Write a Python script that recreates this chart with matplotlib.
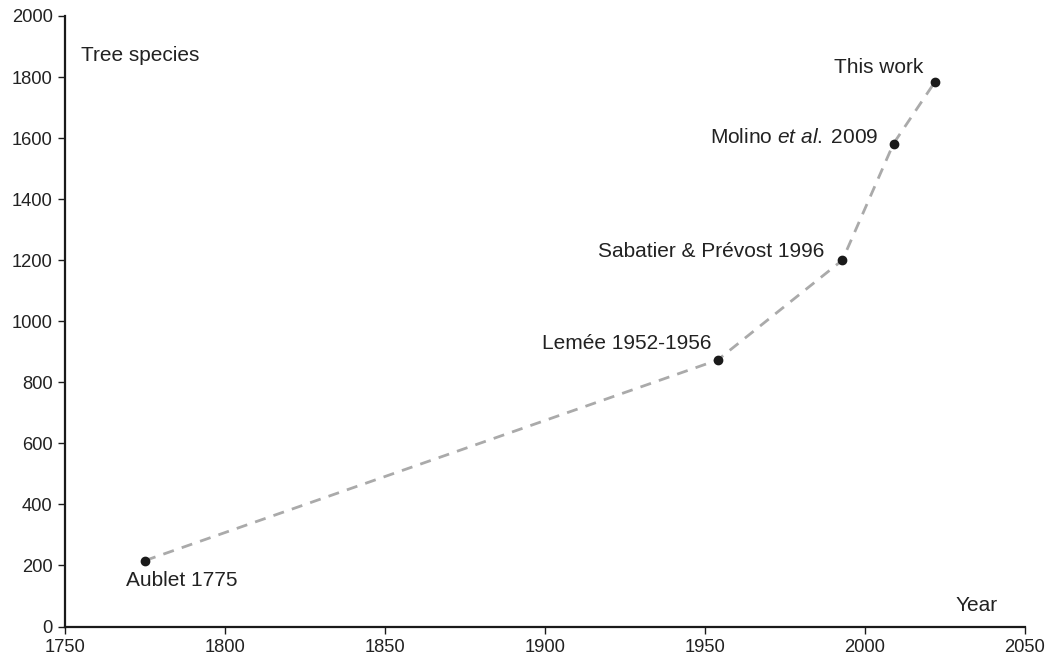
import matplotlib
matplotlib.use("Agg")
import matplotlib.pyplot as plt

plt.rcParams['font.family'] = ['Liberation Sans', 'DejaVu Sans']
plt.rcParams['mathtext.fontset'] = 'custom'
plt.rcParams['mathtext.rm'] = 'Liberation Sans'
plt.rcParams['mathtext.it'] = 'Liberation Sans:italic'

years = [1775, 1954, 1993, 2009, 2022]
species = [216, 873, 1200, 1582, 1785]
labels = ["Aublet 1775", "Lemée 1952-1956", "Sabatier & Prévost 1996",
          "Molino $\\mathit{et\\ al.}\\;$2009", "This work"]
label_offsets = [(37, -20, 'center'), (-6, 17, 'right'), (-18, 9, 'right'),
                 (-15, 6, 'right'), (-12, 14, 'right')]
xticks = [1750, 1800, 1850, 1900, 1950, 2000, 2050]
yticks = list(range(0, 2001, 200))

fig = plt.figure(figsize=(10.47, 6.57), dpi=100)
ax = fig.add_axes([0.0621, 0.0464, 0.9166, 0.9293])

ax.plot(years, species, linestyle=(0, (4, 3)), color='#aaaaaa', linewidth=2, zorder=1)
ax.plot(years, species, 'o', color='#1a1a1a', markersize=6, zorder=2)

for x, y, lab, (dx, dy, ha) in zip(years, species, labels, label_offsets):
    ax.annotate(lab, (x, y), xytext=(dx, dy), textcoords='offset pixels',
                ha=ha, va='center', fontsize=15, color='#222222')

ax.set_xlim(1750, 2050)
ax.set_ylim(0, 2000)
ax.set_xticks(xticks)
ax.set_yticks(yticks)
for s in ['top', 'right']:
    ax.spines[s].set_visible(False)
for s in ['left', 'bottom']:
    ax.spines[s].set_linewidth(1.6)
    ax.spines[s].set_color('#1a1a1a')
ax.tick_params(axis='both', length=5, width=1, color='#1a1a1a', labelsize=13.2,
               labelcolor='#222222', pad=4)

ax.text(0.017, 0.935, "Tree species", transform=ax.transAxes, fontsize=15,
        color='#222222', ha='left', va='center')
ax.text(0.95, 0.035, "Year", transform=ax.transAxes, fontsize=15,
        color='#222222', ha='center', va='center')

fig.savefig("out.png", dpi=100)
